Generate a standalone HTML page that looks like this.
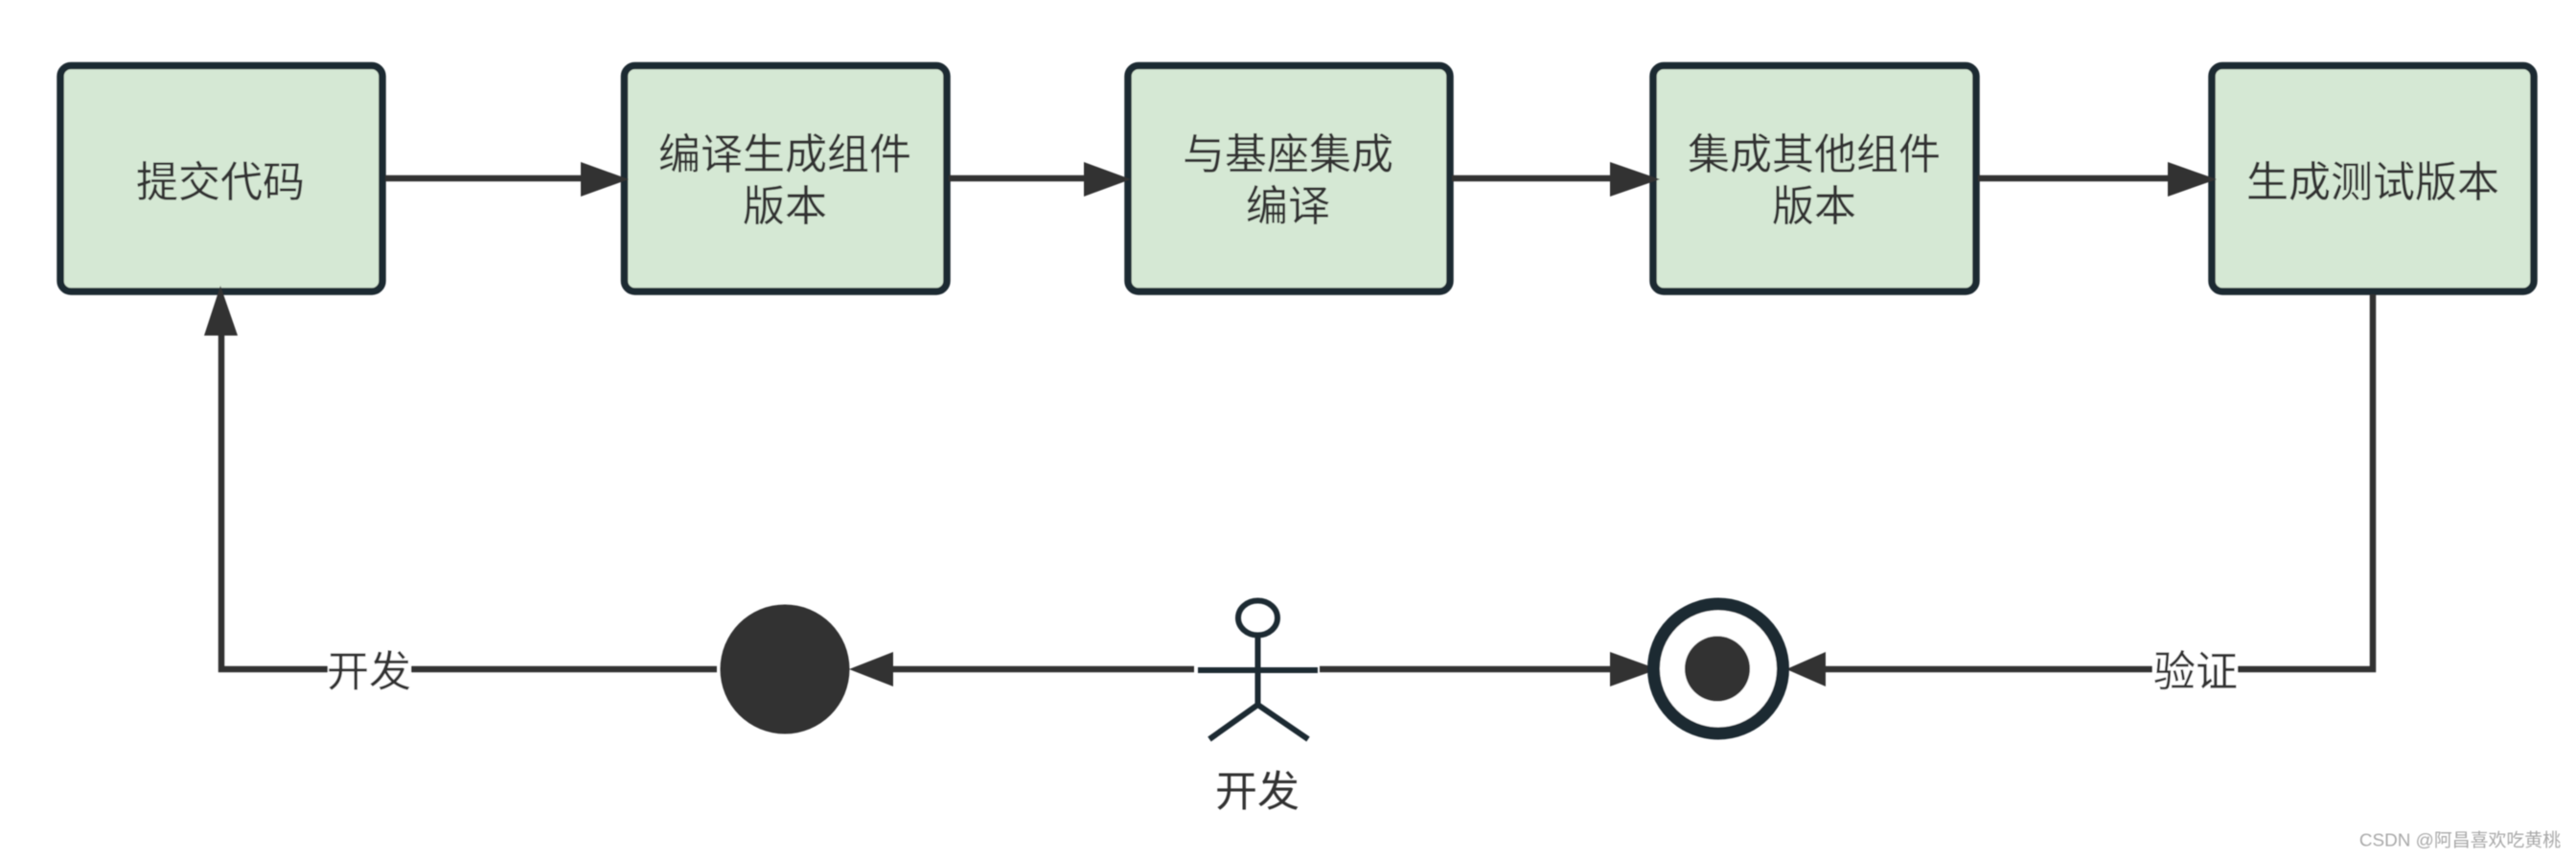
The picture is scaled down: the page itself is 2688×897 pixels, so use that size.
<!DOCTYPE html>
<html lang="zh">
<head>
<meta charset="utf-8">
<title>流程图</title>
<style>
html,body{margin:0;padding:0;background:#fff;width:2688px;height:897px;overflow:hidden}
svg{display:block}
text{font-family:"Liberation Sans","Noto Sans CJK SC",sans-serif;fill:#333;font-size:44px;text-anchor:middle;dominant-baseline:central}
.b{fill:#d5e8d4;stroke:#1f2a33;stroke-width:7.500}
.l{fill:none;stroke:#333;stroke-width:6.500;stroke-linejoin:miter}
.h{fill:#333}
.a{fill:none;stroke:#1f2a33;stroke-width:6}
</style>
</head>
<body>
<svg width="2688" height="897" viewBox="0 0 2688 897" xmlns="http://www.w3.org/2000/svg">
<defs><filter id="s" filterUnits="userSpaceOnUse" x="0" y="0" width="2688" height="897"><feGaussianBlur stdDeviation="0.5"/></filter></defs>
<rect width="2688" height="897" fill="#fff"/>
<g filter="url(#s)">

<rect class="b" x="63" y="68.500" width="336" height="235.500" rx="11"/>
<rect class="b" x="651.500" y="68.500" width="336.500" height="235.500" rx="11"/>
<rect class="b" x="1177" y="68.500" width="336" height="235.500" rx="11"/>
<rect class="b" x="1725" y="68.500" width="337" height="235.500" rx="11"/>
<rect class="b" x="2308" y="68.500" width="336" height="235.500" rx="11"/>

<path class="l" d="M402 186H608"/><path class="h" d="M606 169L656 187L606 205Z"/>
<path class="l" d="M990 186H1133"/><path class="h" d="M1131 169L1180 187L1131 205Z"/>
<path class="l" d="M1515 186H1682"/><path class="h" d="M1680 169L1732 187L1680 205Z"/>
<path class="l" d="M2064 186H2264"/><path class="h" d="M2262 169L2313 187L2262 205Z"/>

<path class="l" d="M748 698H231V348"/><path class="h" d="M230 298L248 350H213Z"/>
<path class="l" d="M1246 698H930"/><path class="h" d="M886 698L932 680V716Z"/>
<path class="l" d="M1377 698H1682"/><path class="h" d="M1680 680L1730 698L1680 716Z"/>
<path class="l" d="M2476 307V698H1903"/><path class="h" d="M1864 698L1905 680V716Z"/>

<ellipse class="h" cx="819" cy="698" rx="67.500" ry="67.500"/>
<circle cx="1793" cy="697.500" r="67.500" fill="#fff" stroke="#1f2a33" stroke-width="13"/>
<ellipse class="h" cx="1792" cy="697.500" rx="34" ry="34"/>

<ellipse class="a" cx="1312.500" cy="644.500" rx="20.500" ry="18"/>
<path class="a" d="M1312.500 665V735M1250 699H1375M1262 771L1312.500 735L1365 771"/>

<rect x="342" y="680" width="87" height="40" fill="#fff"/>
<rect x="2246" y="680" width="89" height="40" fill="#fff"/>

<text x="230" y="190.500">提交代码</text>
<text x="819" y="161.500">编译生成组件</text>
<text x="819" y="215.500">版本</text>
<text x="1344" y="161.500">与基座集成</text>
<text x="1344" y="215.500">编译</text>
<text x="1893" y="161.500">集成其他组件</text>
<text x="1893" y="215.500">版本</text>
<text x="2476" y="190.500">生成测试版本</text>
<text x="385" y="701">开发</text>
<text x="1312" y="826">开发</text>
<text x="2291" y="701">验证</text>
<text x="2567" y="877" style="font-size:18.900px;fill:#a8a8a8">CSDN @阿昌喜欢吃黄桃</text>
</g>
</svg>
</body>
</html>
